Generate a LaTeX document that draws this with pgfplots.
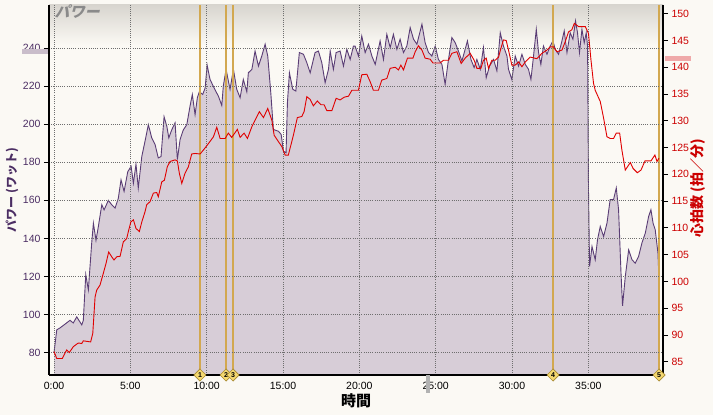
\documentclass[border=0pt]{standalone}
\usepackage{fontspec}
\setmainfont{Liberation Sans}
\newfontfamily\jp{Noto Sans CJK JP}
\newfontfamily\jpsl[FakeSlant=0.25]{Noto Sans CJK JP}
\usepackage{pgfplots}
\usepackage{pgfplotstable}
\pgfplotsset{compat=1.18}
\definecolor{bg}{HTML}{FBF9F4}
\definecolor{gradtop}{HTML}{D8D5CF}
\definecolor{areafill}{HTML}{D7CDD7}
\definecolor{powerline}{HTML}{5A3D75}
\definecolor{hrline}{HTML}{E00000}
\definecolor{gridcol}{HTML}{6E6E6E}
\definecolor{gold}{HTML}{D2A850}
\definecolor{dfill}{HTML}{F4D870}
\definecolor{dborder}{HTML}{A88A30}
\definecolor{lpurple}{HTML}{4B2D63}
\definecolor{lred}{HTML}{CC0000}
\definecolor{avgpw}{HTML}{C9BDCA}
\definecolor{avghr}{HTML}{EFA9A9}
\definecolor{titlegray}{HTML}{8A8A8A}

\pgfplotstableread{
t P
0.00 80
0.18 92
0.39 93
1.05 97
1.26 95.6
1.49 98.8
1.82 94.6
1.92 97
2.08 121
2.25 113
2.47 137.7
2.58 148
2.75 139
2.90 146
3.13 157.7
3.28 155
3.56 160
3.78 157.7
4.00 156
4.21 161
4.39 170.8
4.59 164.7
4.83 175
5.05 177.9
5.20 169
5.37 179
5.52 166.5
5.75 183
5.96 191
6.18 199.8
6.40 192.8
6.62 189.3
6.83 182.3
7.01 183
7.21 203.9
7.39 198.9
7.52 192.8
7.71 197
7.93 200.7
8.08 181.4
8.26 192
8.47 197
8.70 199.8
8.91 209.5
9.06 215.6
9.24 205
9.39 213.9
9.52 217
9.74 215.6
9.90 219
10.03 231
10.22 223.5
10.55 218
10.77 214.7
10.99 209.8
11.09 220
11.27 228.8
11.53 218.3
11.75 228.8
11.97 218.3
12.19 213.9
12.40 223.5
12.63 217
12.73 227
12.96 228.8
13.17 238.4
13.39 230.5
13.61 235.8
13.83 242
14.00 235.8
14.20 216.5
14.37 197.2
14.70 196.3
14.88 194.6
15.03 185.8
15.20 185
15.29 211.3
15.42 227
15.64 218.3
15.84 217.4
16.07 237.6
16.34 236.7
16.56 232.3
16.78 227
17.10 237.6
17.32 238.4
17.54 232.3
17.76 221.8
17.98 228.8
18.09 238.4
18.30 228.8
18.48 237.6
18.74 238.4
18.96 230.5
19.18 239.3
19.40 234
19.61 241
19.72 241
19.94 235.8
20.16 246.3
20.38 237.6
20.60 242
20.82 235.8
21.04 231.4
21.36 243.7
21.58 234
21.80 247.2
22.02 240.2
22.23 247.2
22.46 239.3
22.67 244.6
22.89 237.6
23.11 241
23.33 250.7
23.55 244.6
23.77 242
24.10 252.5
24.31 242.8
24.53 237.6
24.75 235.8
24.97 241
25.18 234
25.41 231.4
25.62 220.9
25.84 234
26.06 245.5
26.28 242.8
26.49 238.4
26.72 233.2
26.93 239.3
27.08 243.7
27.31 234
27.52 229.7
27.70 234
27.92 228.8
28.13 240.2
28.31 224.4
28.53 230.5
28.79 234
29.01 228
29.23 248
29.44 241
29.67 235.8
29.77 228.8
29.99 223.5
30.21 235.8
30.43 230.5
30.65 236.7
30.87 231.4
31.08 228.8
31.24 223.5
31.41 235.8
31.59 249.8
31.74 237.6
31.89 231.4
32.06 241
32.29 236.7
32.50 241
32.68 243.7
32.83 239.3
33.05 236.7
33.27 243.7
33.42 249
33.60 237.6
33.81 248
33.99 244.6
34.16 254.2
34.29 248
34.42 237.6
34.58 249.8
34.73 242.8
34.86 248
34.95 241
35.01 165.6
35.08 125.3
35.24 135.8
35.45 128.8
35.60 139.3
35.78 146.3
36.00 141
36.22 148
36.43 160.4
36.65 160.4
36.83 166.5
36.98 155.1
37.14 121.8
37.24 104.6
37.42 120
37.64 134
37.86 128.8
38.07 127
38.29 130.5
38.51 137.6
38.73 142.8
38.95 151.6
39.10 155.1
39.24 148
39.38 144.6
39.56 132.3
39.62 120
}\power

\pgfplotstableread{
t H
0.00 86.9
0.18 85.6
0.54 85.6
0.83 87.2
1.00 86.7
1.26 87.8
1.59 88.5
1.82 88.4
1.92 88.9
2.40 88.7
2.54 90.3
2.69 97.1
2.80 98.4
3.01 99.3
3.23 101.5
3.41 103.4
3.58 105.5
3.78 104.6
3.93 104
4.11 104.6
4.33 104.7
4.54 107.4
4.76 108
4.87 109.3
5.03 111.1
5.20 111.5
5.37 109.9
5.59 109.3
5.75 111.1
5.96 113
6.07 114.3
6.29 114.9
6.51 116.5
6.73 116.6
6.83 115.8
7.06 118.6
7.23 118.9
7.42 121.4
7.60 122.4
7.93 122.7
8.08 122.5
8.21 120.2
8.37 118.3
8.58 120.2
8.80 121.4
9.02 123.8
9.24 123.9
9.57 123.8
9.83 124.7
10.05 125.5
10.44 127
10.66 128.8
10.88 126.7
11.21 126.7
11.42 127.7
11.64 126.9
12.01 128.4
12.19 126.9
12.45 127.7
12.67 126.7
12.96 128.9
13.17 130.1
13.45 131.7
13.72 130.6
14.00 132.3
14.27 130.1
14.42 127.3
14.70 126.1
14.92 125.2
15.14 123.6
15.35 123.6
15.68 127.3
15.94 130.6
16.23 130.8
16.38 131.7
16.56 134.5
16.78 134
16.99 132.8
17.25 133.7
17.48 133
17.69 133
17.87 131.9
18.20 131.9
18.48 134.2
18.74 133.9
19.00 134.4
19.29 134.6
19.51 135.7
19.94 135.7
20.16 138.6
20.49 138.7
20.71 137.3
20.92 135.7
21.25 135.7
21.47 137.6
21.80 137.9
22.02 139.8
22.35 140
22.56 139.5
22.72 140.4
22.89 139.5
23.15 141.7
23.51 141.7
23.66 142.9
23.87 144
24.10 143.2
24.31 141.7
24.64 141.5
24.82 140.8
25.29 140.8
25.51 141.3
25.84 141.3
26.06 142.6
26.39 142.9
26.67 140.7
26.93 141.7
27.26 142.6
27.52 141.3
27.70 139.8
27.96 139.8
28.13 141.3
28.31 141.7
28.46 139.8
28.68 141.3
28.90 141.3
29.12 141.9
29.27 143.5
29.44 145.1
29.62 145
29.77 143.2
29.99 140.4
30.21 140.4
30.43 141
30.65 140.1
30.87 141
31.19 141.9
31.63 141.6
31.96 142.6
32.29 143.2
32.50 143.8
32.72 143.8
32.94 142.9
33.27 143.2
33.49 144.8
33.70 146.6
33.92 147
34.08 148.2
34.36 147.6
34.80 147.6
35.01 146.3
35.17 141.4
35.34 137
35.45 135.7
35.78 133.6
36.00 130.5
36.22 127
36.43 126.7
36.65 126.7
36.83 127.7
37.05 127.7
37.20 124.5
37.42 120.8
37.75 122.2
37.93 121.1
38.21 120.3
38.45 120.8
38.71 122.5
39.10 122.5
39.36 123.6
39.50 122.4
39.62 123
}\hr

\begin{document}
\begin{tikzpicture}[x=1pt,y=1pt]
\path[use as bounding box, fill=bg] (0,0) rectangle (713,415);
\shade[top color=gradtop, bottom color=bg] (49,410) rectangle (663,370);
\begin{axis}[
  at={(49pt,40pt)}, anchor=south west,
  width=614pt, height=370pt, scale only axis,
  xmin=-0.328, xmax=39.89, ymin=68.29, ymax=262.58,
  axis x line*=bottom, axis y line*=left,
  axis line style={black, line width=1.2pt},
  axis on top,
  xtick={0,5,...,35},
  xticklabels={0:00,5:00,10:00,15:00,20:00,25:00,30:00,35:00},
  ytick={80,100,...,240},
  xtick style={draw=none},
  ytick style={black, line width=0.8pt},
  tick align=outside, major tick length=5pt,
  grid=major,
  major grid style={gridcol, line width=0.6pt, dash pattern=on 1pt off 1.2pt},
  /pgf/number format/assume math mode=true,
  xticklabel style={font=\fontsize{10.5}{10.5}\selectfont, black, yshift=1pt},
  yticklabel style={font=\fontsize{10.5}{10.5}\selectfont, lpurple},
  clip=true,
]
\addplot[fill=areafill, draw=none] table[x=t,y=P] {\power} \closedcycle;
\addplot[powerline, line width=0.9pt] table[x=t,y=P] {\power};
\addplot[gold, line width=1.6pt, ycomb] coordinates {(9.56,262.58) (11.27,262.58) (11.73,262.58) (32.69,262.58) (39.63,262.58)};
\end{axis}
\begin{axis}[
  at={(49pt,40pt)}, anchor=south west,
  width=614pt, height=370pt, scale only axis,
  xmin=-0.328, xmax=39.89, ymin=82.52, ymax=151.63,
  axis x line=none, axis y line*=right,
  axis line style={black, line width=1.2pt},
  ytick={85,90,...,150},
  ytick style={black, line width=0.8pt},
  tick align=outside, major tick length=5pt,
  /pgf/number format/assume math mode=true,
  yticklabel style={font=\fontsize{10.5}{10.5}\selectfont, lred},
  clip=false,
]
\addplot[hrline, line width=0.9pt] table[x=t,y=H] {\hr};
\addplot[only marks, mark=square*, mark size=4.3pt,
  mark options={rotate=45, fill=dfill, draw=dborder, line width=0.6pt},
  point meta=explicit symbolic,
  nodes near coords,
  every node near coord/.style={anchor=center, font=\fontsize{7}{7}\selectfont\bfseries, text=black, inner sep=0pt}]
  coordinates {(9.56,82.52)[1] (11.27,82.52)[2] (11.73,82.52)[3] (32.69,82.52)[4] (39.63,82.52)[5]};
\end{axis}
% average markers and decorations
\fill[avgpw] (22,361) rectangle (48,366);
\fill[avghr] (665,354) rectangle (691,359);
\fill[gray!60] (426,22) rectangle (430,40);
\node[anchor=west, text=titlegray, font=\jpsl\bfseries\fontsize{15}{15}\selectfont] at (51,403) {パワー};
\node[font=\jp\bfseries\fontsize{15}{15}\selectfont] at (356,14) {時間};
\node[rotate=90, text=lpurple, font=\jp\bfseries\fontsize{12}{12}\selectfont] at (12,225) {パワー (ワット)};
\node[rotate=90, text=lred, font=\jp\bfseries\fontsize{14}{14}\selectfont] at (698,227) {心拍数 (拍／分)};
\end{tikzpicture}
\end{document}
